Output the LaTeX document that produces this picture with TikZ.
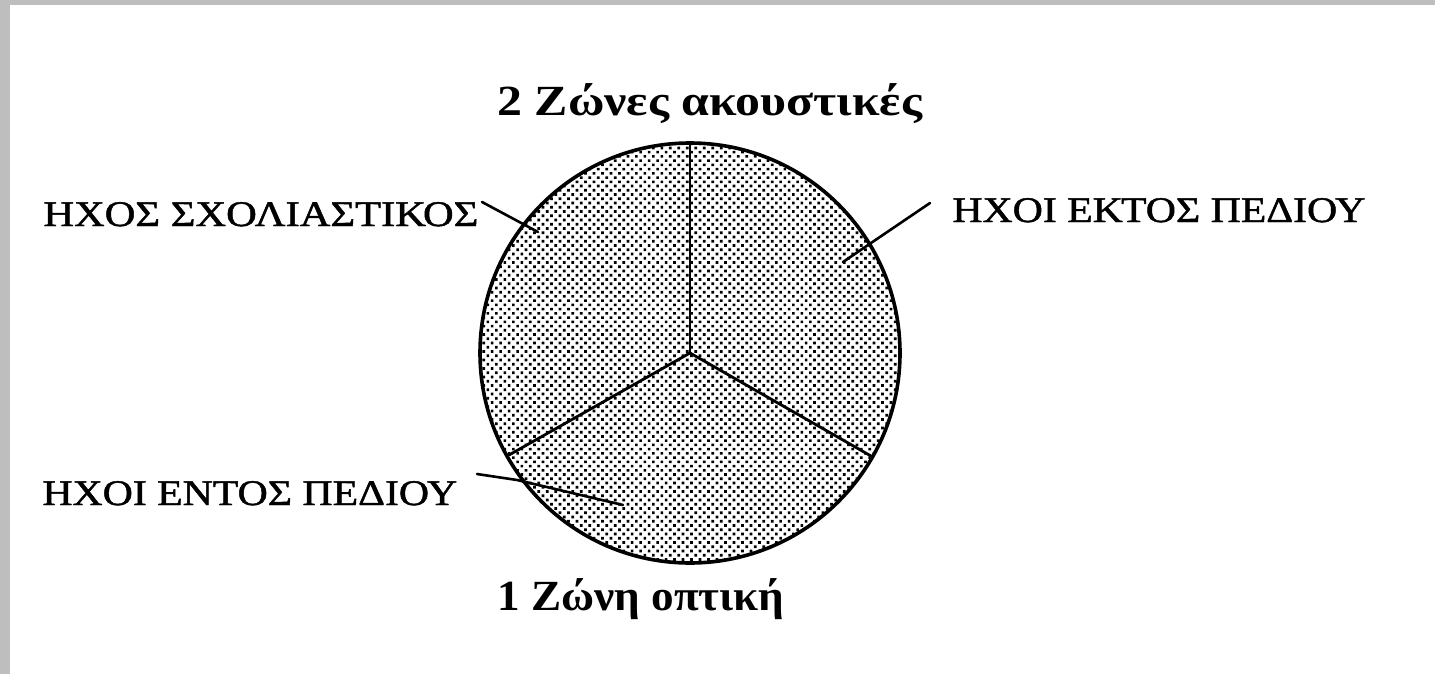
\documentclass[tikz,border=0pt]{standalone}
\usepackage{fontspec}
\usepackage{graphicx}
\setmainfont{Liberation Serif}
\newfontfamily\labelfont[FakeBold=1.2]{Liberation Serif}
\usetikzlibrary{patterns.meta}
\definecolor{frame}{HTML}{BEBEBE}
\begin{document}
\begin{tikzpicture}[x=0.5pt,y=-0.5pt,
  lbl/.style={inner sep=0pt,anchor=base west,font=\labelfont\fontsize{18}{20}\selectfont},
  zone/.style={inner sep=0pt,anchor=base west,font=\fontsize{21.5}{24}\selectfont\bfseries},
  spoke/.style={line width=1.4pt,line cap=round},
  leader/.style={line width=1.3pt,line cap=round}]
\useasboundingbox (0,0) rectangle (1435,674);
\fill[frame] (0,0) rectangle (10,674);
\fill[frame] (0,0) rectangle (1435,5);
% circle
\coordinate (c) at (690,353);
\filldraw[line width=1.8pt,pattern={Dots[distance=3pt,radius=0.95pt,angle=45]}] (c) circle [radius=105pt];
\coordinate (top) at (690,143);
\coordinate (rgt) at (871,456);
\coordinate (lft) at (509,455);
\draw[spoke] (c) -- (top);
\draw[spoke] (c) -- (rgt);
\draw[spoke] (c) -- (lft);
% labels
\node[zone] (title) at (497,116) {\scalebox{1.16}[1]{2 Ζώνες ακουστικές}};
\node[zone] (bottom) at (497,610) {\scalebox{1.05}[1]{1 Ζώνη οπτική}};
\node[lbl] (comm) at (43,226) {\scalebox{1.18}[1]{ΗΧΟΣ ΣΧΟΛΙΑΣΤΙΚΟΣ}};
\node[lbl] (outf) at (952,222) {\scalebox{1.16}[1]{ΗΧΟΙ ΕΚΤΟΣ ΠΕΔΙΟΥ}};
\node[lbl] (inf) at (42,505) {\scalebox{1.16}[1]{ΗΧΟΙ ΕΝΤΟΣ ΠΕΔΙΟΥ}};
% leaders
\coordinate (commA) at (482,202);
\coordinate (commB) at (538,232);
\coordinate (outA) at (930,203);
\coordinate (outB) at (843,262);
\coordinate (inA) at (477,474);
\coordinate (inM) at (517,480);
\coordinate (inB) at (623,505);
\draw[leader] (commA) -- (commB);
\draw[leader] (outA) -- (outB);
\draw[leader] (inA) -- (inM) -- (inB);
\end{tikzpicture}
\end{document}
